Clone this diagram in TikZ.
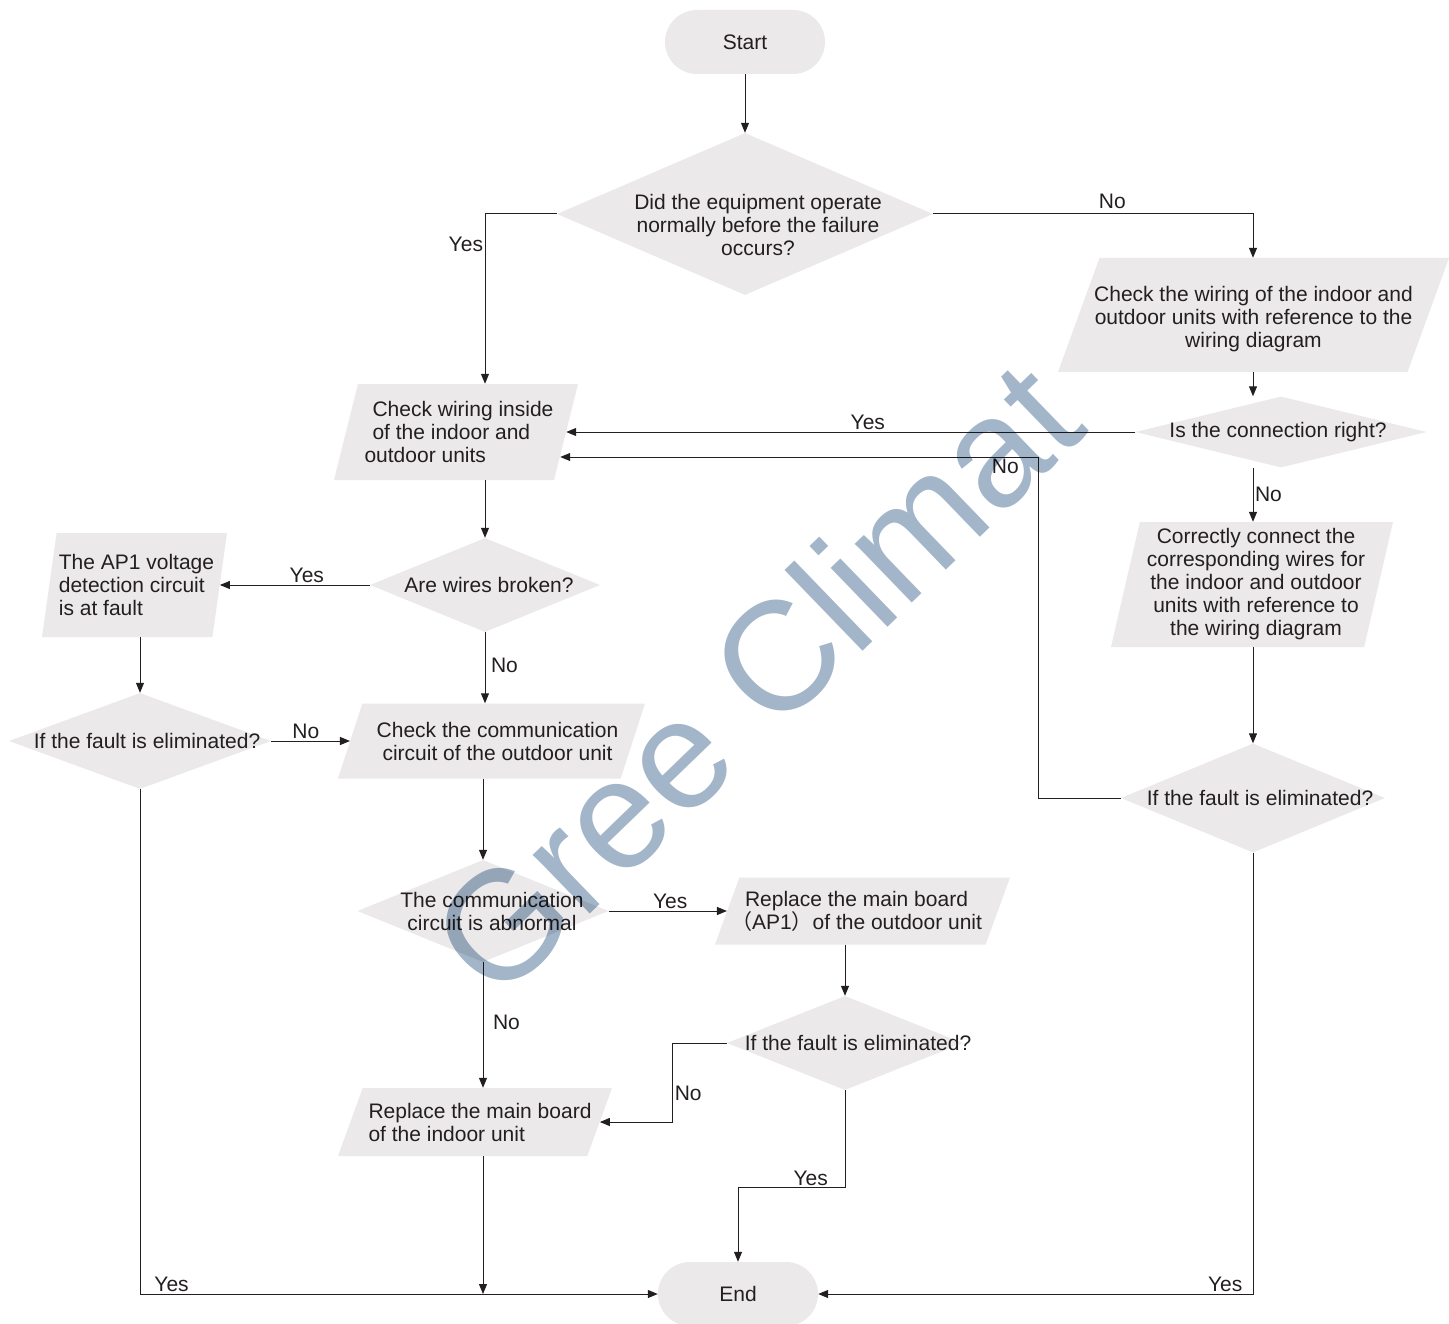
\documentclass[tikz,border=0pt]{standalone}
\usepackage{fontspec}
\setmainfont{Liberation Sans}
\newfontfamily\cjk{Noto Sans CJK SC}
\usepackage{tikz}
\usetikzlibrary{arrows.meta, shapes.geometric, calc}
\definecolor{boxgray}{HTML}{EBE9EA}
\definecolor{inkgray}{HTML}{231F20}
\definecolor{wmblue}{HTML}{A2B5C9}

\begin{document}
\begin{tikzpicture}[x=1pt, y=-1pt, font=\fontsize{21}{23}\selectfont, text=inkgray,
  term/.style={fill=boxgray, rounded corners=32pt, minimum width=160pt, minimum height=64pt, inner sep=0pt},
  dec/.style={shape=diamond, fill=boxgray, inner sep=0pt},
  io/.style={shape=trapezium, trapezium stretches body, fill=boxgray, inner xsep=0pt},
  txt/.style={inner sep=0pt, align=center},
  a/.style={-{Triangle[length=10pt, width=8pt]}, line width=1pt, draw=inkgray},
  lb/.style={inner sep=1.5pt}]
  \useasboundingbox (0,0) rectangle (1449,1324);
  % start and first question
  \node[term] (start) at (745,42) {Start};
  \node[dec, minimum width=376pt, minimum height=162pt,
        label={[txt, xshift=13pt, yshift=-11pt]center:{Did the equipment operate\\normally before the failure\\occurs?}}] (d1) at (745,214) {};
  % right branch
  \node[io, minimum width=391pt, inner ysep=57pt, trapezium left angle=70, trapezium right angle=110,
        label={[txt, yshift=-4pt]center:{Check the wiring of the indoor and\\outdoor units with reference to the\\wiring diagram}}] (p2) at (1253.5,315) {};
  \node[dec, minimum width=291pt, minimum height=71pt,
        label={[txt, xshift=-3pt]center:{Is the connection right?}}] (d2) at (1281,432) {};
  \node[io, minimum width=282pt, inner ysep=62.5pt, trapezium left angle=77, trapezium right angle=103,
        label={[txt, xshift=4pt]center:{Correctly connect the\\corresponding wires for\\the indoor and outdoor\\units with reference to\\the wiring diagram}}] (p3) at (1252,584.5) {};
  \node[dec, minimum width=264pt, minimum height=109pt,
        label={[txt, xshift=7pt]center:{If the fault is eliminated?}}] (d3) at (1253,798) {};
  % middle column
  \node[io, minimum width=244pt, inner ysep=48pt, trapezium left angle=76, trapezium right angle=104,
        label={[txt, align=left, xshift=3pt]center:{\hspace*{8pt}Check wiring inside\\\hspace*{8pt}of the indoor and\\outdoor units}}] (p1) at (456,432) {};
  \node[dec, minimum width=230pt, minimum height=94pt,
        label={[txt, xshift=4pt]center:{Are wires broken?}}] (d4) at (485,585) {};
  \node[io, minimum width=307pt, inner ysep=37.5pt, trapezium left angle=72, trapezium right angle=108,
        label={[txt, xshift=6pt]center:{Check the communication\\circuit of the outdoor unit}}] (p5) at (491.5,741) {};
  \node[dec, minimum width=251pt, minimum height=102pt,
        label={[txt, xshift=9pt]center:{The communication\\circuit is abnormal}}] (d6) at (483,911) {};
  \node[io, minimum width=274pt, inner ysep=34pt, trapezium left angle=70, trapezium right angle=110,
        label={[txt, align=left, xshift=5pt]center:{Replace the main board\\of the indoor unit}}] (p7) at (475,1122) {};
  % left column
  \node[io, minimum width=185pt, inner ysep=52pt, trapezium left angle=82, trapezium right angle=98,
        label={[txt, align=left, xshift=2pt]center:{The AP1 voltage\\detection circuit\\is at fault}}] (p4) at (134.5,585) {};
  \node[dec, minimum width=262pt, minimum height=96pt,
        label={[txt, xshift=7pt]center:{If the fault is eliminated?}}] (d5) at (140,741) {};
  % lower middle
  \node[io, minimum width=295pt, inner ysep=33.5pt, trapezium left angle=70, trapezium right angle=110,
        label={[txt, xshift=-6pt]center:{Replace the main board\\{\cjk （}AP1{\cjk ）}of the outdoor unit}}] (p6) at (862.5,911) {};
  \node[dec, minimum width=236pt, minimum height=94pt,
        label={[txt, xshift=13pt]center:{If the fault is eliminated?}}] (d7) at (845,1043) {};
  \node[term] (end) at (738,1294) {End};
  \coordinate (mrg) at (d6 |- end.west);

  \draw[a] (start) -- (d1);
  \draw[a] (d1.west) -| node[lb, pos=0.59, anchor=east] {Yes} (p1.north -| d4.north);
  \draw[a] (d1.east) -| node[lb, pos=0.28, anchor=south, yshift=3pt] {No} (p2.north -| d3.north);
  \draw[a] (p2.south -| d3.north) -- (d2.north -| d3.north);
  \draw[a] (d2.west) -- node[lb, pos=0.47, above] {Yes} (p1.east);
  \draw[a] (d2.south -| d3.north) -- node[lb, right] {No} (p3.north -| d3.north);
  \draw[a] (p3.south -| d3.north) -- (d3.north);
  \draw[a] (d3.west) -- ++(-82,0) |- node[lb, pos=0.535, anchor=north] {No} ([xshift=-6pt, yshift=-25pt]p1.east);
  \draw[a] (d3.south) |- node[lb, pos=0.51, anchor=south east] {Yes} (end.east);
  \draw[a] (p1.south -| d4.north) -- (d4.north);
  \draw[a] (d4.west) -- node[lb, pos=0.42, above] {Yes} (p4.east);
  \draw[a] (d4.south) -- node[lb, pos=0.47, right, xshift=4pt] {No} (p5.north -| d4.south);
  \draw[a] (p4.south -| d5.north) -- (d5.north);
  \draw[a] (d5.east) -- node[lb, pos=0.44, above] {No} (p5.west);
  \draw[a] (d5.south) |- node[lb, pos=0.512, anchor=south west] {Yes} (end.west);
  \draw[a] (p5.south -| d6.north) -- (d6.north);
  \draw[a] (d6.east) -- node[lb, pos=0.52, above] {Yes} (p6.west);
  \draw[a] (d6.south) -- node[lb, pos=0.48, right, xshift=8pt] {No} (p7.north -| d6.north);
  \draw[a] (p6.south -| d7.north) -- (d7.north);
  \draw[a] (d7.west) -- ++(-54,0) |- node[lb, pos=0.32, anchor=west] {No} (p7.east);
  \draw[a] (d7.south) -- ++(0,97) -| node[lb, pos=0.16, anchor=south] {Yes} (end.north);
  \draw[a] (p7.south -| d6.north) -- (mrg);
  % watermark
  \begin{scope}[blend mode=multiply]
    \node[font=\fontsize{155}{155}\selectfont, text=wmblue, inner sep=0pt, rotate=44] (wm) at (755,678) {Gree Climat};
  \end{scope}
\end{tikzpicture}
\end{document}
